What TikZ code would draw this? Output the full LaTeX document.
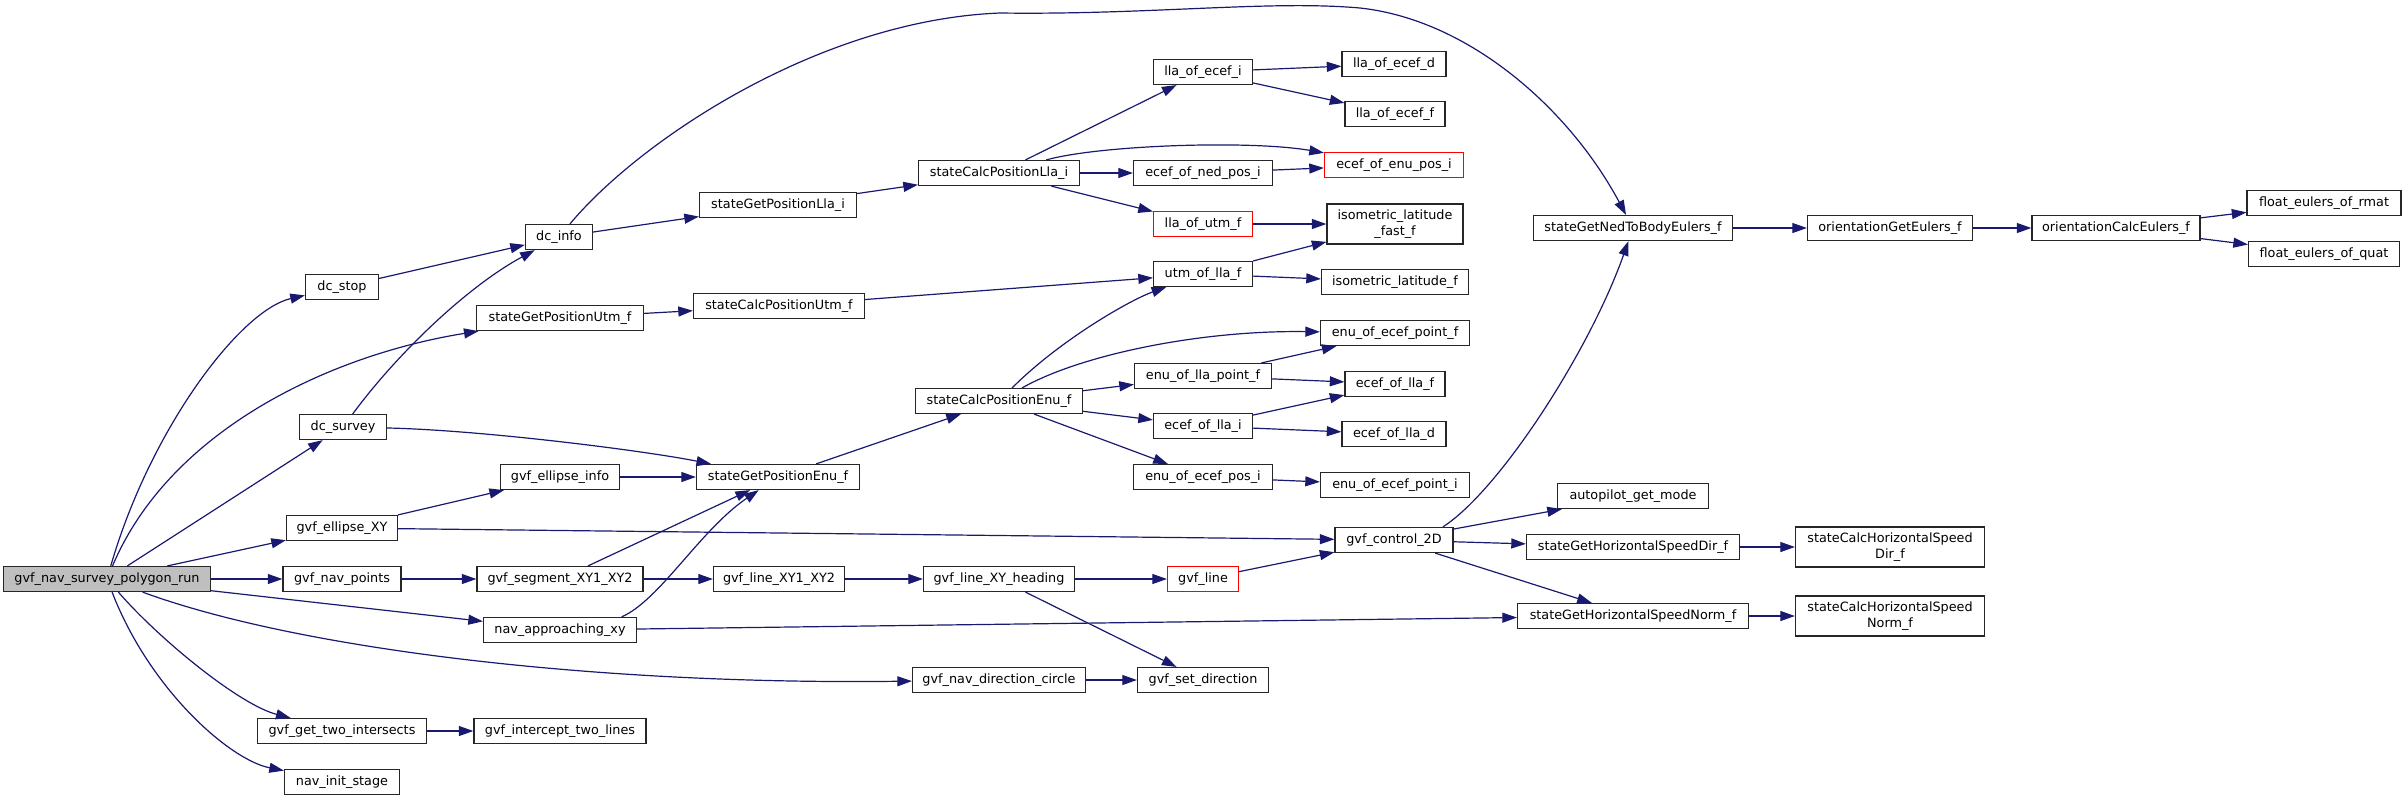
\documentclass[tikz,border=0pt]{standalone}
\usepackage{fontspec}
\setmainfont{DejaVu Sans}
\usetikzlibrary{arrows.meta}
\definecolor{EdgeBlue}{HTML}{191970}
\definecolor{RootGray}{HTML}{BFBFBF}
\definecolor{TruncRed}{HTML}{FF0000}

\begin{document}
\begin{tikzpicture}[
    x=0.5pt, y=-0.5pt,
    >={Triangle[length=7.3pt, width=5pt]},
    fn/.style = {rectangle, draw=black!85, fill=white, minimum width=#1*0.5pt, minimum height=12.5pt, inner sep=1pt, font=\fontsize{6.4}{8}\selectfont, line width=0.6pt},
    root/.style = {fn=#1, fill=RootGray},
    trunc/.style = {fn=#1, draw=TruncRed},
    twoline/.style = {fn=#1, minimum height=20pt, align=center},
    call/.style = {draw=EdgeBlue, ->, line width=0.6pt}
  ]
  \useasboundingbox (0,0) rectangle (2407,800);

  \node [root=207] (main) at (107,579) {gvf\_nav\_survey\_polygon\_run};

  \node [fn=73] (dcstop) at (342,287) {dc\_stop};
  \node [fn=87] (dcsurvey) at (343,427) {dc\_survey};
  \node [fn=111] (ellipsexy) at (342,528) {gvf\_ellipse\_XY};
  \node [fn=118] (navpoints) at (342,579) {gvf\_nav\_points};
  \node [fn=169] (intersects) at (342,731) {gvf\_get\_two\_intersects};
  \node [fn=115] (initstage) at (342,782) {nav\_init\_stage};

  \node [fn=67] (dcinfo) at (559,237) {dc\_info};
  \node [fn=167] (getutm) at (560,318) {stateGetPositionUtm\_f};
  \node [fn=119] (ellipseinfo) at (560,477) {gvf\_ellipse\_info};
  \node [fn=166] (segment) at (560,579) {gvf\_segment\_XY1\_XY2};
  \node [fn=153] (approaching) at (560,630) {nav\_approaching\_xy};
  \node [fn=172] (intercept) at (560,731) {gvf\_intercept\_two\_lines};

  \node [fn=157] (getlla) at (778,205) {stateGetPositionLla\_i};
  \node [fn=171] (calcutm) at (779,306) {stateCalcPositionUtm\_f};
  \node [fn=163] (getenu) at (778,477) {stateGetPositionEnu\_f};
  \node [fn=131] (linexy) at (779,579) {gvf\_line\_XY1\_XY2};

  \node [fn=161] (calclla) at (999,173) {stateCalcPositionLla\_i};
  \node [fn=167] (calcenu) at (999,401) {stateCalcPositionEnu\_f};
  \node [fn=151] (heading) at (999,579) {gvf\_line\_XY\_heading};
  \node [fn=173] (dircircle) at (999,680) {gvf\_nav\_direction\_circle};

  \node [fn=99] (llaofecefi) at (1203,72) {lla\_of\_ecef\_i};
  \node [fn=139] (nedpos) at (1203,173) {ecef\_of\_ned\_pos\_i};
  \node [trunc=99] (llaofutm) at (1203,224) {lla\_of\_utm\_f};
  \node [fn=99] (utmoflla) at (1203,274) {utm\_of\_lla\_f};
  \node [fn=137] (enuofllapt) at (1203,376) {enu\_of\_lla\_point\_f};
  \node [fn=99] (ecefofllai) at (1203,426) {ecef\_of\_lla\_i};
  \node [fn=139] (enuofecefpos) at (1203,477) {enu\_of\_ecef\_pos\_i};
  \node [trunc=71] (gvfline) at (1203,579) {gvf\_line};
  \node [fn=131] (setdir) at (1203,680) {gvf\_set\_direction};

  \node [fn=104] (llaofecefd) at (1394,64) {lla\_of\_ecef\_d};
  \node [fn=100] (llaofeceff) at (1395,114) {lla\_of\_ecef\_f};
  \node [trunc=139] (ecefofenu) at (1394,165) {ecef\_of\_enu\_pos\_i};
  \node [twoline=136] (isofast) at (1395,224) {isometric\_latitude\\\_fast\_f};
  \node [fn=147] (isof) at (1395,282) {isometric\_latitude\_f};
  \node [fn=149] (enuofecefptf) at (1395,333) {enu\_of\_ecef\_point\_f};
  \node [fn=100] (ecefofllaf) at (1395,384) {ecef\_of\_lla\_f};
  \node [fn=104] (ecefofllad) at (1394,434) {ecef\_of\_lla\_d};
  \node [fn=149] (enuofecefpti) at (1395,485) {enu\_of\_ecef\_point\_i};
  \node [fn=118] (control) at (1394,540) {gvf\_control\_2D};

  \node [fn=199] (nedtobody) at (1633,228) {stateGetNedToBodyEulers\_f};
  \node [fn=151] (autopilot) at (1633,496) {autopilot\_get\_mode};
  \node [fn=213] (speeddir) at (1633,547) {stateGetHorizontalSpeedDir\_f};
  \node [fn=231] (speednorm) at (1633,616) {stateGetHorizontalSpeedNorm\_f};

  \node [fn=165] (orientget) at (1890,228) {orientationGetEulers\_f};
  \node [twoline=189] (calcspeeddir) at (1890,547) {stateCalcHorizontalSpeed\\Dir\_f};
  \node [twoline=189] (calcspeednorm) at (1890,616) {stateCalcHorizontalSpeed\\Norm\_f};
  \node [fn=168] (orientcalc) at (2116,228) {orientationCalcEulers\_f};
  \node [fn=154] (rmat) at (2324,203) {float\_eulers\_of\_rmat};
  \node [fn=151] (quat) at (2324,254) {float\_eulers\_of\_quat};

  % calls out of the root
  \draw [call] (main) .. controls (150,430) and (240,310) .. (dcstop);
  \draw [call] (main) .. controls (170,430) and (330,355) .. (getutm);
  \draw [call] (main) -- (dcsurvey);
  \draw [call] (main) -- (ellipsexy);
  \draw [call] (main) -- (navpoints);
  \draw [call] (main) -- (approaching);
  \draw [call] (main) .. controls (300,650) and (600,685) .. (dircircle);
  \draw [call] (main) .. controls (160,640) and (240,705) .. (intersects);
  \draw [call] (main) .. controls (150,690) and (230,760) .. (initstage);

  \draw [call] (dcstop) -- (dcinfo);
  \draw [call] (dcsurvey) .. controls (400,350) and (470,285) .. (dcinfo);
  \draw [call] (dcsurvey) .. controls (480,430) and (640,450) .. (getenu);
  \draw [call] (dcinfo) -- (getlla);
  \draw [call] (dcinfo) .. controls (640,140) and (820,20) .. (1000,13) .. controls (1150,15) and (1270,0) .. (1360,8) .. controls (1470,20) and (1570,110) .. (nedtobody);
  \draw [call] (getutm) -- (calcutm);
  \draw [call] (calcutm) -- (utmoflla);
  \draw [call] (getlla) -- (calclla);

  \draw [call] (calclla) -- (llaofecefi);
  \draw [call] (calclla) -- (nedpos);
  \draw [call] (calclla) .. controls (1100,145) and (1250,140) .. (ecefofenu);
  \draw [call] (calclla) -- (llaofutm);
  \draw [call] (llaofecefi) -- (llaofecefd);
  \draw [call] (llaofecefi) -- (llaofeceff);
  \draw [call] (nedpos) -- (ecefofenu);
  \draw [call] (llaofutm) -- (isofast);
  \draw [call] (utmoflla) -- (isofast);
  \draw [call] (utmoflla) -- (isof);

  \draw [call] (calcenu) .. controls (1060,340) and (1130,300) .. (utmoflla);
  \draw [call] (calcenu) .. controls (1080,355) and (1200,330) .. (enuofecefptf);
  \draw [call] (calcenu) -- (enuofllapt);
  \draw [call] (calcenu) -- (ecefofllai);
  \draw [call] (calcenu) -- (enuofecefpos);
  \draw [call] (enuofllapt) -- (enuofecefptf);
  \draw [call] (enuofllapt) -- (ecefofllaf);
  \draw [call] (ecefofllai) -- (ecefofllaf);
  \draw [call] (ecefofllai) -- (ecefofllad);
  \draw [call] (enuofecefpos) -- (enuofecefpti);

  \draw [call] (ellipsexy) -- (ellipseinfo);
  \draw [call] (ellipsexy) -- (control);
  \draw [call] (ellipseinfo) -- (getenu);
  \draw [call] (getenu) -- (calcenu);
  \draw [call] (navpoints) -- (segment);
  \draw [call] (segment) -- (getenu);
  \draw [call] (segment) -- (linexy);
  \draw [call] (approaching.12) .. controls (660,600) and (700,530) .. (getenu);
  \draw [call] (approaching) -- (speednorm);
  \draw [call] (linexy) -- (heading);
  \draw [call] (heading) -- (gvfline);
  \draw [call] (heading) -- (setdir);
  \draw [call] (dircircle) -- (setdir);
  \draw [call] (gvfline) -- (control);
  \draw [call] (intersects) -- (intercept);

  \draw [call] (control.15) .. controls (1500,490) and (1590,350) .. (nedtobody);
  \draw [call] (control) -- (autopilot);
  \draw [call] (control) -- (speeddir);
  \draw [call] (control) -- (speednorm);
  \draw [call] (nedtobody) -- (orientget);
  \draw [call] (orientget) -- (orientcalc);
  \draw [call] (orientcalc) -- (rmat);
  \draw [call] (orientcalc) -- (quat);
  \draw [call] (speeddir) -- (calcspeeddir);
  \draw [call] (speednorm) -- (calcspeednorm);
\end{tikzpicture}
\end{document}
